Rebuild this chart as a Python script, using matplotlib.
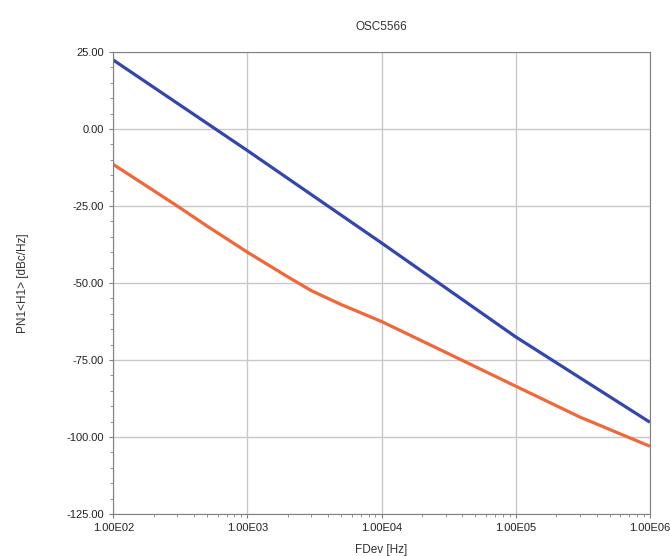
import math
import matplotlib
matplotlib.use("Agg")
import matplotlib.pyplot as plt
from matplotlib.ticker import FixedLocator, FuncFormatter, MultipleLocator, LogLocator

plt.rcParams['font.family'] = ['Liberation Sans', 'DejaVu Sans']

# data
fdev_blue = [1e2, 1e3, 1e4, 1e5, 1e6]
pn_blue = [22.4, -7.0, -37.0, -67.5, -95.2]

fdev_orange = [1e2, 2e2, 3e2, 5e2, 1e3, 2e3, 3e3, 5e3, 1e4, 3e4, 1e5, 3e5, 1e6]
pn_orange = [-11.5, -20.0, -25.0, -31.5, -40.0, -48.0, -52.5, -57.0,
             -62.5, -72.5, -83.5, -93.5, -103.0]

xticks = [1e2, 1e3, 1e4, 1e5, 1e6]
title = "OSC5566"
xlabel = "FDev [Hz]"
ylabel = "PN1<H1> [dBc/Hz]"

fig = plt.figure(figsize=(6.7, 5.56), dpi=100)
ax = fig.add_axes([0.169, 0.0755, 0.801, 0.831])

ax.plot(fdev_blue, pn_blue, color="#3346b0", lw=2.3, solid_capstyle="butt")
ax.plot(fdev_orange, pn_orange, color="#f2673a", lw=2.3, solid_capstyle="butt",
        solid_joinstyle="round")

ax.set_xscale("log")
ax.set_xlim(1e2, 1e6)
ax.set_ylim(-125, 25)

ax.xaxis.set_major_locator(FixedLocator(xticks))
ax.xaxis.set_major_formatter(FuncFormatter(lambda v, p: "1.00E%02d" % round(math.log10(v))))
ax.xaxis.set_minor_locator(LogLocator(base=10, subs=range(2, 10)))
ax.yaxis.set_major_locator(MultipleLocator(25))
ax.yaxis.set_minor_locator(MultipleLocator(5))
ax.yaxis.set_major_formatter(FuncFormatter(lambda v, p: "%.2f" % v))

ax.grid(True, which="major", color="#c8c8c8", lw=1.0)
for s in ax.spines.values():
    s.set_color("#808080")
ax.tick_params(which="both", direction="out", colors="#808080", labelcolor="#222222", labelsize=8)
ax.tick_params(which="major", length=3)
ax.tick_params(which="minor", length=2)

ax.set_title(title, fontsize=8.5, color="#333333", pad=16)
ax.set_xlabel(xlabel, fontsize=8.5, color="#333333", labelpad=8)
ax.set_ylabel(ylabel, fontsize=8.5, color="#333333", labelpad=27)

fig.savefig("out.png", dpi=100)
